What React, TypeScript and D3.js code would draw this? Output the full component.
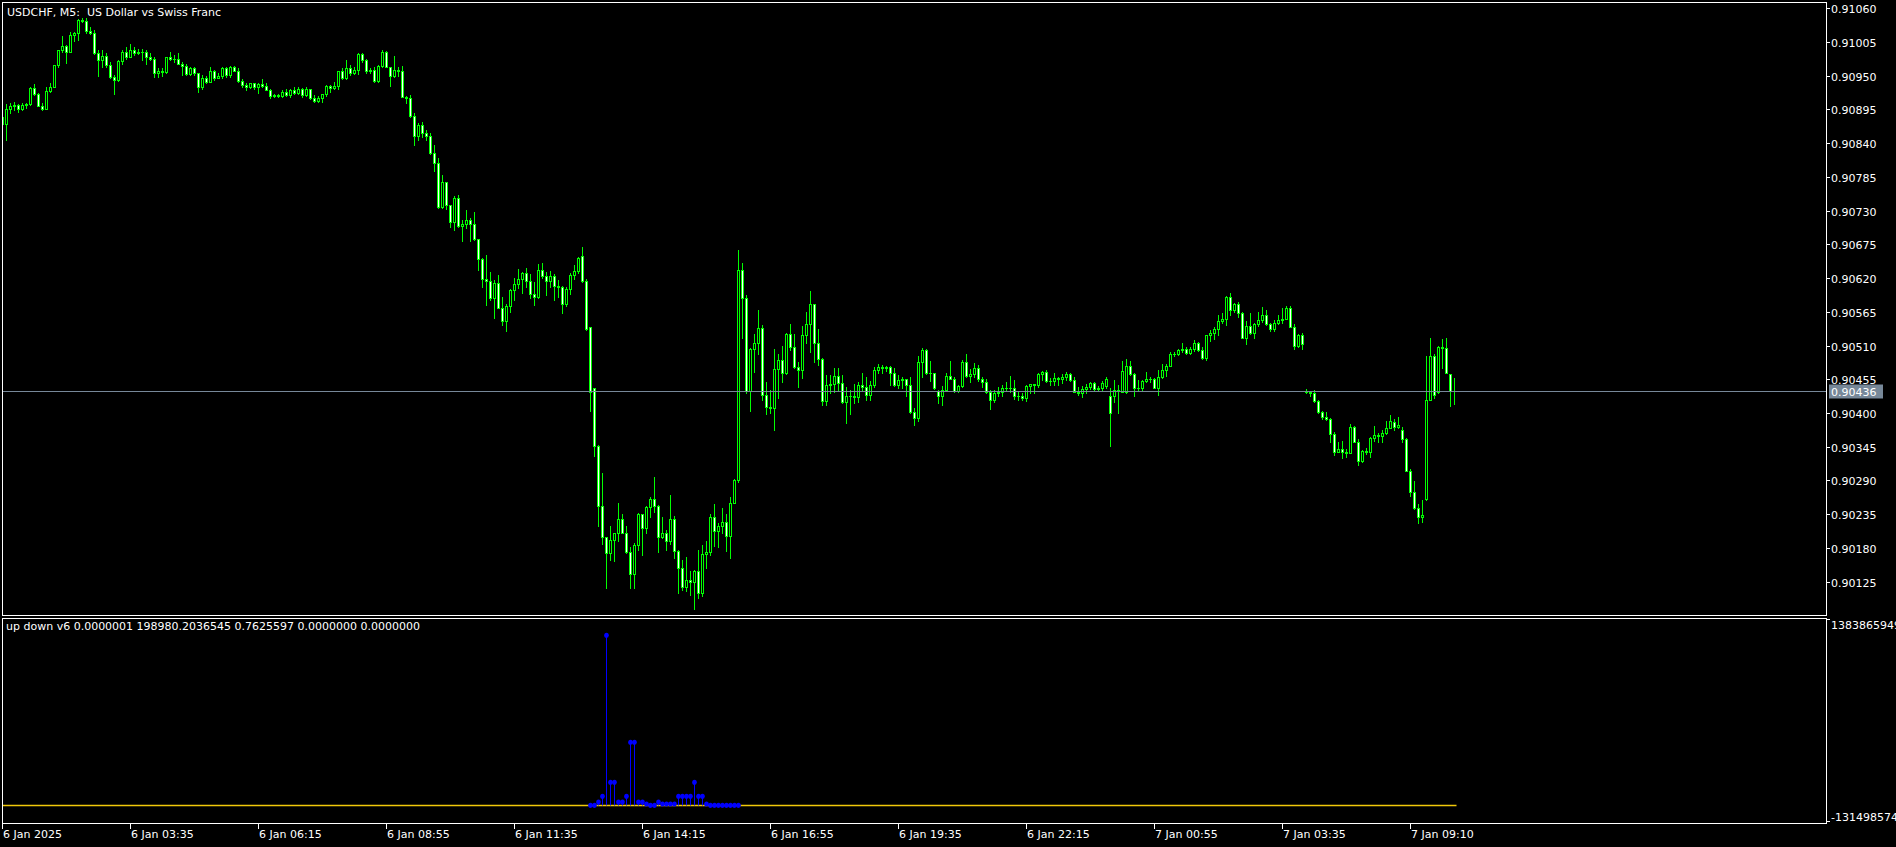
import React from 'react';
import * as d3 from 'd3';

// USDCHF M5 candles, prices in points (1 point = 0.00001)
const openPts = [
90883,90871,90895,90901,90903,90895,90902,90904,90930,90920,
90901,90896,90925,90932,90967,90992,90999,90989,91016,91019,
91041,91040,91023,91019,90987,90975,90983,90967,90948,90943,
90974,90989,90981,90992,90987,90989,90989,90981,90978,90954,
90957,90956,90980,90977,90978,90970,90966,90953,90962,90954,
90931,90947,90940,90958,90946,90950,90962,90951,90964,90958,
90941,90935,90931,90938,90932,90936,90933,90927,90917,90919,
90917,90924,90919,90927,90922,90928,90919,90928,90913,90909,
90914,90920,90933,90930,90933,90957,90947,90962,90954,90960,
90985,90975,90957,90959,90942,90966,90989,90965,90950,90960,
90957,90916,90914,90884,90852,90870,90857,90851,90824,90808,
90736,90776,90739,90711,90751,90705,90709,90714,90708,90683,
90651,90618,90615,90587,90612,90572,90550,90574,90601,90610,
90618,90629,90616,90594,90590,90633,90623,90616,90623,90607,
90605,90577,90603,90625,90632,90656,90616,90540,90440,90347,
90249,90197,90171,90193,90204,90227,90205,90174,90137,90184,
90235,90212,90247,90259,90249,90197,90204,90192,90227,90175,
90148,90117,90128,90125,90143,90106,90170,90173,90230,90208,
90216,90222,90200,90254,90291,90633,90587,90436,90505,90515,
90538,90430,90409,90408,90471,90486,90466,90529,90507,90475,
90470,90527,90545,90578,90515,90488,90420,90446,90448,90460,
90449,90418,90428,90427,90426,90446,90442,90429,90445,90470,
90475,90474,90475,90466,90446,90454,90455,90445,90402,90392,
90483,90503,90465,90465,90436,90428,90437,90460,90456,90436,
90444,90484,90461,90463,90474,90455,90451,90435,90422,90433,
90434,90440,90441,90441,90427,90427,90425,90444,90447,90446,
90464,90467,90452,90452,90457,90455,90459,90464,90454,90435,
90433,90439,90443,90449,90439,90441,90444,90428,90427,90437,
90435,90435,90477,90463,90441,90440,90452,90455,90455,90441,
90459,90470,90477,90496,90497,90502,90505,90498,90504,90514,
90502,90489,90527,90531,90537,90550,90554,90589,90568,90577,
90563,90523,90542,90531,90545,90552,90560,90545,90537,90546,
90552,90554,90571,90541,90510,90528,90436,90435,90432,90420,
90401,90394,90390,90365,90336,90341,90337,90335,90377,90353,
90321,90338,90337,90360,90364,90362,90368,90375,90385,90378,
90373,90358,90306,90272,90245,90231,90259,90422,90493,90434,
90508,90506,90463,90436];

const highPts = [
90886,90904,90906,90908,90904,90905,90906,90931,90936,90922,
90905,90932,90938,90968,90992,91015,91000,91022,91022,91042,
91044,91044,91030,91025,90992,90992,90987,90973,90951,90976,
90992,90997,91002,90997,90993,90993,90992,90987,90980,90962,
90962,90981,90988,90984,90987,90973,90969,90965,90965,90955,
90951,90950,90965,90959,90954,90965,90965,90966,90966,90962,
90944,90939,90939,90939,90938,90944,90938,90929,90921,90921,
90927,90928,90929,90931,90931,90930,90931,90929,90919,90917,
90921,90935,90935,90940,90958,90962,90976,90967,90965,90987,
90987,90977,90962,90965,90967,90992,90991,90965,90982,90965,
90966,90917,90919,90889,90873,90875,90861,90857,90837,90816,
90788,90777,90740,90754,90755,90715,90731,90718,90728,90684,
90652,90658,90630,90617,90625,90589,90578,90602,90620,90635,
90630,90636,90627,90614,90643,90645,90630,90632,90626,90617,
90607,90606,90628,90641,90655,90670,90619,90541,90440,90348,
90302,90198,90216,90204,90253,90235,90216,90181,90188,90237,
90236,90248,90263,90296,90250,90231,90210,90266,90232,90176,
90160,90166,90143,90144,90177,90185,90192,90235,90252,90220,
90245,90235,90263,90293,90666,90645,90592,90506,90529,90568,
90543,90450,90437,90505,90496,90509,90531,90545,90529,90484,
90542,90565,90599,90578,90537,90489,90462,90462,90474,90474,
90462,90443,90437,90448,90451,90465,90458,90453,90475,90480,
90478,90477,90476,90474,90462,90459,90456,90459,90408,90493,
90506,90504,90485,90466,90437,90444,90465,90485,90458,90445,
90486,90497,90472,90481,90479,90458,90456,90437,90437,90443,
90445,90451,90460,90454,90435,90433,90446,90448,90448,90466,
90469,90470,90457,90465,90459,90464,90467,90465,90459,90442,
90444,90447,90451,90451,90444,90452,90459,90440,90454,90446,
90485,90488,90485,90465,90454,90454,90467,90459,90457,90470,
90480,90480,90499,90499,90505,90514,90507,90507,90519,90516,
90507,90528,90536,90541,90560,90563,90591,90596,90580,90581,
90565,90550,90563,90546,90564,90573,90568,90546,90552,90560,
90571,90575,90575,90545,90529,90530,90439,90436,90437,90421,
90403,90402,90392,90369,90353,90354,90342,90382,90379,90358,
90340,90343,90361,90379,90368,90372,90387,90397,90390,90393,
90377,90359,90308,90289,90251,90258,90493,90523,90497,90509,
90521,90523,90464,90457];

const lowPts = [
90868,90845,90889,90894,90891,90894,90897,90902,90919,90900,
90894,90895,90924,90932,90964,90989,90971,90988,91007,91008,
91038,91019,91018,90985,90950,90965,90965,90946,90921,90942,
90970,90978,90980,90984,90985,90976,90970,90976,90948,90948,
90950,90955,90975,90972,90969,90951,90951,90952,90951,90924,
90928,90938,90940,90943,90946,90947,90948,90948,90957,90940,
90932,90926,90930,90929,90922,90931,90926,90914,90915,90915,
90916,90917,90916,90920,90920,90916,90917,90912,90908,90907,
90908,90917,90924,90929,90929,90945,90945,90951,90953,90953,
90973,90955,90955,90940,90940,90965,90964,90933,90948,90950,
90915,90906,90883,90837,90845,90850,90845,90822,90794,90734,
90735,90733,90704,90698,90704,90681,90701,90681,90682,90633,
90606,90576,90585,90555,90571,90543,90533,90565,90584,90604,
90595,90605,90587,90576,90588,90620,90592,90606,90585,90590,
90563,90574,90594,90618,90629,90614,90536,90404,90330,90216,
90187,90115,90160,90159,90192,90204,90172,90115,90115,90176,
90168,90204,90231,90239,90174,90196,90176,90186,90164,90107,
90111,90110,90103,90080,90098,90101,90148,90169,90183,90181,
90204,90175,90164,90253,90287,90522,90432,90404,90467,90497,
90421,90398,90400,90372,90424,90451,90464,90503,90473,90443,
90457,90514,90500,90484,90478,90413,90413,90433,90434,90436,
90417,90384,90398,90416,90418,90437,90421,90421,90443,90465,
90465,90469,90446,90444,90440,90440,90427,90400,90380,90387,
90458,90464,90453,90439,90417,90413,90436,90455,90435,90434,
90443,90459,90450,90459,90453,90442,90432,90406,90418,90427,
90427,90436,90435,90423,90421,90421,90420,90432,90433,90443,
90454,90451,90446,90446,90445,90449,90454,90453,90434,90429,
90426,90432,90439,90437,90436,90437,90440,90347,90418,90400,
90434,90433,90462,90427,90437,90437,90451,90451,90440,90429,
90457,90460,90476,90493,90495,90499,90496,90496,90501,90501,
90488,90486,90518,90521,90527,90546,90543,90560,90564,90557,
90522,90512,90529,90523,90542,90549,90543,90533,90534,90545,
90546,90553,90540,90505,90508,90504,90432,90428,90418,90400,
90391,90389,90353,90331,90336,90327,90329,90334,90352,90315,
90320,90333,90329,90355,90353,90352,90365,90375,90372,90375,
90352,90305,90265,90243,90221,90223,90258,90421,90425,90432,
90474,90465,90412,90414];

const closePts = [
90871,90895,90901,90903,90895,90902,90904,90930,90920,90901,
90896,90925,90932,90967,90992,90999,90989,91016,91019,91041,
91040,91023,91019,90987,90975,90983,90967,90948,90943,90974,
90989,90981,90992,90987,90989,90989,90981,90978,90954,90957,
90956,90980,90977,90978,90970,90966,90953,90962,90954,90931,
90947,90940,90958,90946,90950,90962,90951,90964,90958,90941,
90935,90931,90938,90932,90936,90933,90927,90917,90919,90917,
90924,90919,90927,90922,90928,90919,90928,90913,90909,90914,
90920,90933,90930,90933,90957,90947,90962,90954,90960,90985,
90975,90957,90959,90942,90966,90989,90965,90950,90960,90957,
90916,90914,90884,90852,90870,90857,90851,90824,90808,90736,
90776,90739,90711,90751,90705,90709,90714,90708,90683,90651,
90618,90615,90587,90612,90572,90550,90574,90601,90610,90618,
90629,90616,90594,90590,90633,90623,90616,90623,90607,90605,
90577,90603,90625,90632,90652,90616,90537,90435,90347,90249,
90197,90171,90193,90204,90227,90205,90174,90137,90184,90235,
90212,90247,90259,90249,90197,90204,90192,90227,90175,90148,
90117,90128,90125,90143,90106,90170,90173,90230,90208,90216,
90222,90200,90254,90291,90633,90587,90436,90505,90515,90538,
90430,90409,90408,90471,90486,90466,90529,90507,90475,90470,
90527,90545,90578,90515,90488,90420,90446,90448,90460,90449,
90418,90428,90427,90426,90446,90442,90429,90445,90470,90475,
90474,90475,90466,90446,90454,90455,90445,90402,90392,90483,
90503,90465,90465,90441,90428,90437,90460,90456,90436,90444,
90484,90461,90463,90474,90455,90451,90435,90422,90433,90434,
90440,90441,90441,90427,90427,90425,90444,90447,90446,90464,
90467,90452,90452,90457,90455,90459,90464,90454,90435,90433,
90439,90443,90449,90439,90441,90449,90456,90400,90437,90438,
90468,90477,90463,90441,90440,90452,90455,90455,90441,90459,
90470,90477,90496,90497,90502,90505,90498,90504,90514,90502,
90489,90527,90531,90537,90550,90554,90589,90568,90577,90563,
90523,90542,90531,90545,90552,90560,90545,90537,90546,90552,
90554,90571,90541,90510,90527,90512,90435,90432,90420,90401,
90394,90390,90365,90336,90341,90337,90335,90377,90353,90321,
90338,90337,90360,90364,90362,90368,90375,90387,90378,90380,
90358,90306,90272,90245,90231,90234,90421,90493,90430,90508,
90506,90466,90436,90436];

const currentPricePts = 90436;

const priceTicks = [91060, 91005, 90950, 90895, 90840, 90785, 90730, 90675, 90620,
  90565, 90510, 90455, 90400, 90345, 90290, 90235, 90180, 90125];

const timeLabels = ['6 Jan 2025', '6 Jan 03:35', '6 Jan 06:15', '6 Jan 08:55', '6 Jan 11:35',
  '6 Jan 14:15', '6 Jan 16:55', '6 Jan 19:35', '6 Jan 22:15', '7 Jan 00:55', '7 Jan 03:35', '7 Jan 09:10'];
const timeLabelBars = [0, 32, 64, 96, 128, 160, 192, 224, 256, 288, 320, 352];

// indicator "up down v6"
const indMax = 1383865949.8;
const indMin = -1314985743.6;
const indMaxLabel = '1383865949.8';
const indMinLabel = '-1314985743.6';
const indLevel = -1093000000;
const indStartBar = 147;
const indValues = [
  -1093000000, -1093000000, -1049000000, -973000000, 1167000000, -787000000, -787000000, -1049000000, -1049000000, -973000000,
  -255000000, -255000000, -1049000000, -1049000000, -1076000000, -1093000000, -1093000000, -1049000000, -1076000000, -1076000000,
  -1076000000, -1076000000, -973000000, -973000000, -973000000, -973000000, -787000000, -973000000, -973000000, -1076000000,
  -1093000000, -1093000000, -1093000000, -1093000000, -1093000000, -1093000000, -1093000000, -1093000000];

const titleText = 'USDCHF, M5:  US Dollar vs Swiss Franc';
const indText = 'up down v6 0.0000001 198980.2036545 0.7625597 0.0000000 0.0000000';

const FONT = '"DejaVu Sans", Verdana, sans-serif';

export default function App() {
  const W = 1896, H = 847;
  const xL = 2.5, xR = 1826.5;
  const mainTop = 2.5, mainBot = 615.5, indTop = 618.5, indBot = 823.5;
  const green = '#00ff00';
  const x = d3.scaleLinear().domain([0, 1]).range([2.5, 6.5]);
  const y = d3.scaleLinear().domain([90070.6, 91070.3]).range([615, 2]);
  const yi = d3.scaleLinear().domain([indMin, indMax]).range([822, 619]);
  const fmt = (v: number) => (v / 100000).toFixed(5);
  const lastX = x(closePts.length - 1);

  const candles = closePts.map((c, i) => {
    const o = openPts[i], h = highPts[i], l = lowPts[i];
    const cx = x(i);
    const top = Math.round(y(Math.max(o, c)));
    const bot = Math.round(y(Math.min(o, c)));
    const bear = c < o;
    return (
      <g key={i}>
        <line x1={cx} x2={cx} y1={Math.round(y(h))} y2={Math.round(y(l)) + 1} stroke={green} strokeWidth={1} />
        {bot > top ? (
          <rect x={cx - 1} y={top + 0.5} width={2} height={bot - top} fill={bear ? '#ffffff' : '#000000'} stroke={green} strokeWidth={1} />
        ) : (
          <line x1={cx - 1.5} x2={cx + 1.5} y1={top + 0.5} y2={top + 0.5} stroke={green} strokeWidth={1} />
        )}
      </g>
    );
  });

  const curY = Math.round(y(currentPricePts)) + 0.5;
  const baseY = Math.round(yi(indLevel)) + 0.5;

  return (
    <div>
      <style>{'html,body{margin:0;padding:0;background:#000;overflow:hidden}'}</style>
      <svg width={W} height={H} style={{ display: 'block', background: '#000' }} fontFamily={FONT} fontSize={11}>
        <rect x={0} y={0} width={W} height={H} fill="#000" />
        <defs>
          <clipPath id="mainClip">
            <rect x={3} y={3} width={1823} height={612} />
          </clipPath>
          <clipPath id="indClip">
            <rect x={3} y={619} width={1823} height={204} />
          </clipPath>
        </defs>

        {/* main window */}
        <g clipPath="url(#mainClip)">
          {candles}
          <line x1={xL} x2={xR} y1={curY} y2={curY} stroke="#778899" strokeWidth={1} />
        </g>
        <text x={7} y={16} fill="#ffffff" style={{ whiteSpace: 'pre' }}>{titleText}</text>

        {/* indicator window */}
        <g clipPath="url(#indClip)">
          <line x1={xL} x2={lastX + 2} y1={baseY} y2={baseY} stroke="#f0c80a" strokeWidth={1.5} />
          {indValues.map((v, k) => {
            const cx = x(indStartBar + k);
            const vy = yi(v);
            return (
              <g key={k}>
                <line x1={cx} x2={cx} y1={baseY} y2={vy} stroke="#0000ff" strokeWidth={1} />
                <ellipse cx={cx} cy={vy} rx={2.3} ry={2.6} fill="#0000ff" />
              </g>
            );
          })}
        </g>
        <text x={6} y={630} fill="#ffffff">{indText}</text>

        {/* frames */}
        <rect x={xL} y={mainTop} width={xR - xL} height={mainBot - mainTop} fill="none" stroke="#ffffff" strokeWidth={1} />
        <rect x={xL} y={indTop} width={xR - xL} height={indBot - indTop} fill="none" stroke="#ffffff" strokeWidth={1} />

        {/* price axis */}
        {priceTicks.map((p) => {
          const ty = Math.round(y(p)) + 0.5;
          return (
            <g key={p}>
              <line x1={1826} x2={1830} y1={ty} y2={ty} stroke="#ffffff" strokeWidth={1} />
              <text x={1831} y={ty + 4} fill="#ffffff">{fmt(p)}</text>
            </g>
          );
        })}
        <rect x={1829} y={curY - 7} width={54} height={14} fill="#778899" />
        <text x={1831} y={curY + 4} fill="#ffffff">{fmt(currentPricePts)}</text>

        {/* indicator axis */}
        <line x1={1826} x2={1830} y1={619.5} y2={619.5} stroke="#ffffff" strokeWidth={1} />
        <text x={1831} y={629} fill="#ffffff">{indMaxLabel}</text>
        <line x1={1826} x2={1830} y1={821.5} y2={821.5} stroke="#ffffff" strokeWidth={1} />
        <text x={1831} y={821} fill="#ffffff">{indMinLabel}</text>

        {/* time axis */}
        {timeLabels.map((t, k) => {
          const tx = x(timeLabelBars[k]);
          return (
            <g key={t}>
              <line x1={tx} x2={tx} y1={823} y2={829} stroke="#ffffff" strokeWidth={1} />
              <text x={tx + 0.5} y={838} fill="#ffffff">{t}</text>
            </g>
          );
        })}
      </svg>
    </div>
  );
}
